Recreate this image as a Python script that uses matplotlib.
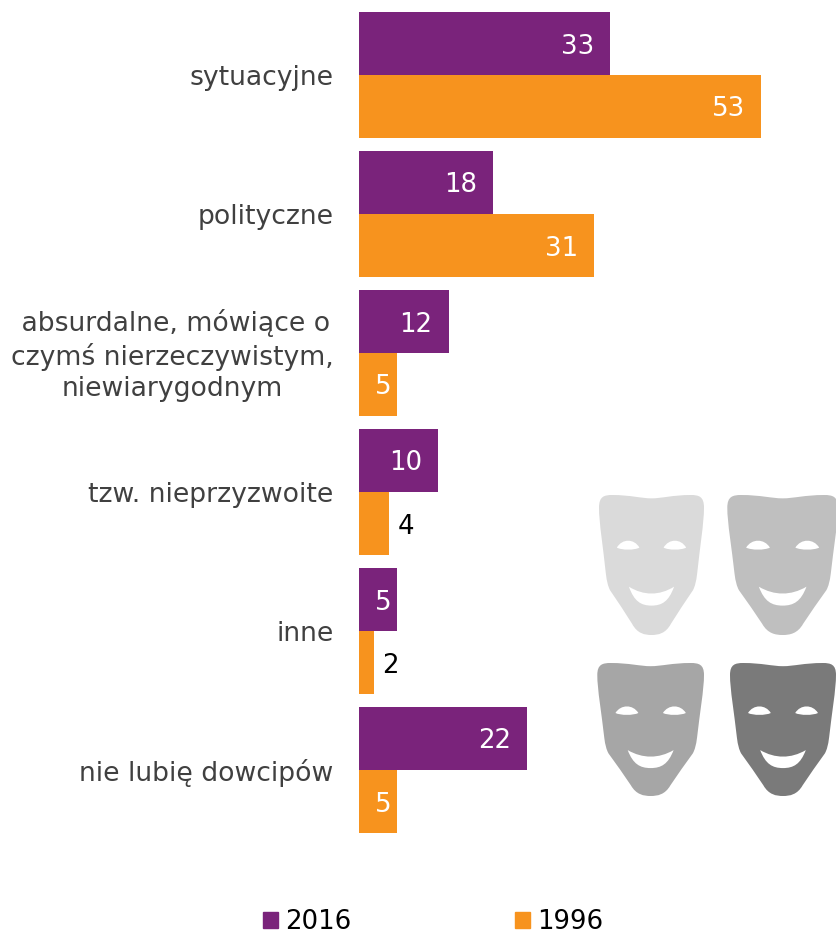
import matplotlib
matplotlib.use("Agg")
import matplotlib.pyplot as plt
from matplotlib.path import Path
from matplotlib.patches import PathPatch, Patch
from matplotlib.transforms import ScaledTranslation

categories = ["sytuacyjne", "polityczne", " absurdalne, mówiące o\nczymś nierzeczywistym,\nniewiarygodnym",
              "tzw. nieprzyzwoite", "inne", "nie lubię dowcipów"]
values_2016 = [33.1, 17.7, 11.8, 10.4, 5, 22.1]
values_1996 = [53, 31, 5, 4, 2, 5]
series_names = ["2016", "1996"]
PURPLE, ORANGE = "#7A237B", "#F7931E"
W, H = 836, 934
PX_PER_UNIT = 7.585

plt.rcParams["font.family"] = "DejaVu Sans"
fig = plt.figure(figsize=(W / 100, H / 100), dpi=100)
ax = fig.add_axes([359 / W, 1 - 839.5 / H, (W - 359) / W, 834 / H])
ax.set_xlim(0, (W - 359) / PX_PER_UNIT)
ax.set_ylim(5.5, -0.5)
bh = 63 / 139
ys = list(range(len(categories)))
b1 = ax.barh([y - bh / 2 for y in ys], values_2016, height=bh, color=PURPLE)
b2 = ax.barh([y + bh / 2 for y in ys], values_1996, height=bh, color=ORANGE)
for s in ax.spines.values():
    s.set_visible(False)
ax.set_xticks([])
ax.set_yticks(ys)
ax.set_yticklabels(categories, fontsize=19.2, color="#404040", multialignment="center", linespacing=1.26)
ax.tick_params(axis="y", length=0, pad=18.5)
ax.patch.set_alpha(0)
lab = ax.get_yticklabels()[2]
lab.set_transform(lab.get_transform() + ScaledTranslation(0, 2.2 / 72, fig.dpi_scale_trans))

for bars, vals in ((b1, values_2016), (b2, values_1996)):
    for r, v in zip(bars, vals):
        yc = r.get_y() + r.get_height() / 2
        label = str(round(v))
        if v < 5:
            ax.annotate(label, (v, yc), xytext=(6, -0.6), textcoords="offset points",
                        ha="left", va="center_baseline", fontsize=18.7, color="black")
        else:
            pad = 11.5 if v >= 10 else 3.8
            ax.annotate(label, (v, yc), xytext=(-pad, 0), textcoords="offset points",
                        ha="right", va="center_baseline", fontsize=18.7, color="white")

fig.legend(handles=[Patch(color=PURPLE, label=series_names[0]), Patch(color=ORANGE, label=series_names[1])],
           loc="lower left", bbox_to_anchor=(263 / W, 1 - 935 / H), ncol=2, frameon=False, fontsize=18.7,
           handlelength=0.58, handleheight=0.58, handletextpad=0.27, columnspacing=6.3,
           borderpad=0, borderaxespad=0, labelcolor="black")

# decorative theatre masks, drawn on an overlay in pixel coordinates
ov = fig.add_axes([0, 0, 1, 1])
ov.set_xlim(0, W)
ov.set_ylim(H, 0)
ov.axis("off")
ov.patch.set_alpha(0)

FACE_SEGS = [((-.2, .024), (-.4, .0), (-.75, .0)),
             ((-.9, .0), (-1.0, .01), (-1.0, .09)),
             ((-1.0, .2), (-.92, .38), (-.87, .56)),
             ((-.85, .62), (-.83, .65), (-.79, .68)),
             ((-.65, .76), (-.5, .84), (-.37, .92)),
             ((-.27, .99), (-.13, 1.0), (0, 1.0))]

def face_path():
    pts = [(0, .024)] + [p for s in FACE_SEGS for p in s]
    verts = pts + [(-u, t) for u, t in reversed(pts[:-1])]
    codes = [Path.MOVETO] + [Path.CURVE4] * (len(verts) - 1)
    return verts, codes

def eye_path(a, b):
    e = .376
    verts = [(a, e), (a + .1, .31), (b - .1, .31), (b, e),
             (b - .1, .395), (a + .1, .395), (a, e)]
    return verts, [Path.MOVETO] + [Path.CURVE4] * 6

def smile_path():
    verts = [(-.43, .655), (-.15, .72), (.15, .72), (.43, .655),
             (.33, .76), (.2, .79), (0, .79),
             (-.2, .79), (-.33, .76), (-.43, .655)]
    return verts, [Path.MOVETO] + [Path.CURVE4] * 9

def draw_mask(x0, x1, y0, y1, color):
    cx, hw, h = (x0 + x1) / 2, (x1 - x0) / 2, y1 - y0
    def add(shape, fc):
        v, c = shape
        ov.add_patch(PathPatch(Path([(cx + hw * u, y0 + h * t) for u, t in v], c), fc=fc, ec="none"))
    add(face_path(), color)
    add(eye_path(-.66, -.23), "white")
    add(eye_path(.23, .66), "white")
    add(smile_path(), "white")

draw_mask(599, 704, 495, 635, "#DADADA")
draw_mask(727.3, 838, 495, 635, "#BFBFBF")
draw_mask(597.3, 704, 663, 796, "#A6A6A6")
draw_mask(730, 836, 663, 796, "#7A7A7A")

fig.savefig("out.png", dpi=100)
